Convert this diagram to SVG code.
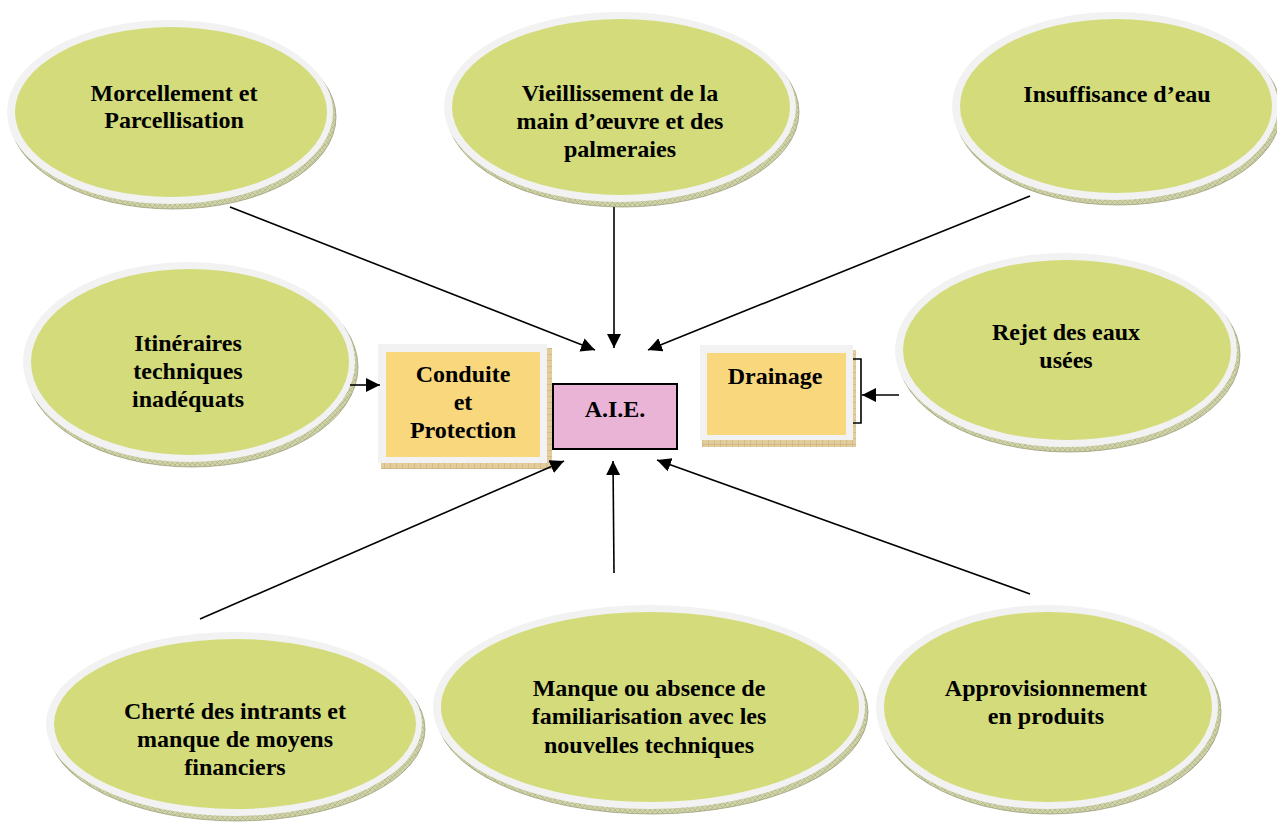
<svg xmlns="http://www.w3.org/2000/svg" width="1277" height="825" viewBox="0 0 1277 825">
<defs>
<pattern id="hatchG" width="5" height="5" patternUnits="userSpaceOnUse">
<rect width="5" height="5" fill="#d0d2a8"/>
<path d="M0,0 L5,5 M5,0 L0,5" stroke="#a4a77c" stroke-width="0.5"/>
</pattern>
<pattern id="hatchT" width="6" height="6" patternUnits="userSpaceOnUse">
<rect width="6" height="6" fill="#e2cc9c"/>
<path d="M0,0 H6 M0,0 V6" stroke="#b99c62" stroke-width="0.7"/>
</pattern>
<marker id="arr" markerUnits="userSpaceOnUse" markerWidth="16" markerHeight="16" refX="14" refY="7" orient="auto">
<path d="M0,0 L14,7 L0,14 z" fill="#000"/>
</marker>
</defs>
<style>
.sh{fill:url(#hatchG);stroke:#959870;stroke-width:0.7}
.rim{fill:#f2f2f2}
.in{fill:#d3db7b}
.t{font-family:"Liberation Serif","Times New Roman",serif;font-weight:bold;font-size:24px;fill:#000;text-anchor:middle}
.bsh{fill:url(#hatchT)}
.brim{fill:#f2f2f2}
.by{fill:#f9d77c}
.c{stroke:#000;stroke-width:1.6;fill:none;marker-end:url(#arr)}
</style>
<rect width="1277" height="825" fill="#fff"/>

<g id="n1">
<ellipse class="sh" cx="173" cy="117" rx="163" ry="92"/>
<ellipse class="rim" cx="170" cy="112" rx="163" ry="92"/>
<ellipse class="in" cx="171" cy="112" rx="156" ry="85"/>
<text class="t" x="174" y="101">Morcellement et</text>
<text class="t" x="174" y="128">Parcellisation</text>
</g>

<g id="n2">
<ellipse class="sh" cx="623" cy="112" rx="176" ry="95"/>
<ellipse class="rim" cx="620" cy="107" rx="176" ry="95"/>
<ellipse class="in" cx="621" cy="107" rx="169" ry="88"/>
<text class="t" x="620" y="101">Vieillissement de la</text>
<text class="t" x="620" y="129">main d’œuvre et des</text>
<text class="t" x="620" y="157">palmeraies</text>
</g>

<g id="n3">
<ellipse class="sh" cx="1118" cy="111" rx="163" ry="94"/>
<ellipse class="rim" cx="1115" cy="106" rx="163" ry="94"/>
<ellipse class="in" cx="1116" cy="106" rx="156" ry="87"/>
<text class="t" x="1117" y="102">Insuffisance d’eau</text>
</g>

<g id="n4">
<ellipse class="sh" cx="192" cy="367" rx="166" ry="100"/>
<ellipse class="rim" cx="189" cy="362" rx="166" ry="100"/>
<ellipse class="in" cx="190" cy="362" rx="159" ry="93"/>
<text class="t" x="188" y="351">Itinéraires</text>
<text class="t" x="188" y="379">techniques</text>
<text class="t" x="188" y="407">inadéquats</text>
</g>

<g id="n5">
<ellipse class="sh" cx="1069" cy="355" rx="171" ry="97"/>
<ellipse class="rim" cx="1066" cy="350" rx="171" ry="97"/>
<ellipse class="in" cx="1067" cy="350" rx="164" ry="90"/>
<text class="t" x="1066" y="340">Rejet des eaux</text>
<text class="t" x="1066" y="368">usées</text>
</g>

<g id="n6">
<ellipse class="sh" cx="237" cy="729" rx="188" ry="92"/>
<ellipse class="rim" cx="234" cy="724" rx="188" ry="92"/>
<ellipse class="in" cx="235" cy="724" rx="181" ry="85"/>
<text class="t" x="235" y="719">Cherté des intrants et</text>
<text class="t" x="235" y="747">manque de moyens</text>
<text class="t" x="235" y="775">financiers</text>
</g>

<g id="n7">
<ellipse class="sh" cx="652" cy="712" rx="216" ry="102"/>
<ellipse class="rim" cx="649" cy="707" rx="216" ry="102"/>
<ellipse class="in" cx="650" cy="707" rx="209" ry="95"/>
<text class="t" x="649" y="696">Manque ou absence de</text>
<text class="t" x="649" y="724">familiarisation avec les</text>
<text class="t" x="649" y="753">nouvelles techniques</text>
</g>

<g id="n8">
<ellipse class="sh" cx="1050" cy="712" rx="171" ry="102"/>
<ellipse class="rim" cx="1047" cy="707" rx="171" ry="102"/>
<ellipse class="in" cx="1048" cy="707" rx="164" ry="95"/>
<text class="t" x="1046" y="696">Approvisionnement</text>
<text class="t" x="1046" y="724">en produits</text>
</g>

<g id="conduite">
<rect class="bsh" x="381" y="348" width="171" height="121"/>
<rect class="brim" x="378" y="344" width="169" height="119"/>
<rect class="by" x="386" y="352" width="154" height="105"/>
<text class="t" x="463" y="382">Conduite</text>
<text class="t" x="463" y="410">et</text>
<text class="t" x="463" y="438">Protection</text>
</g>

<g id="aie">
<rect x="553" y="384" width="124" height="65" fill="#e9b4d6" stroke="#000" stroke-width="2"/>
<text class="t" x="615" y="417">A.I.E.</text>
</g>

<g id="drainage">
<rect class="bsh" x="702" y="350" width="154" height="97"/>
<rect class="brim" x="700" y="345" width="153" height="95"/>
<rect class="by" x="707" y="353" width="139" height="82"/>
<text class="t" x="775" y="384">Drainage</text>
<path d="M853,359 H861 V423 H853" fill="none" stroke="#000" stroke-width="1.6"/>
</g>

<g id="connectors">
<line class="c" x1="230" y1="207" x2="595" y2="350"/>
<line class="c" x1="614" y1="207" x2="614" y2="348"/>
<line class="c" x1="1030" y1="196" x2="648" y2="350"/>
<line class="c" x1="350" y1="385" x2="380" y2="385"/>
<line class="c" x1="899" y1="395" x2="862" y2="395"/>
<line class="c" x1="200" y1="619" x2="564" y2="461"/>
<line class="c" x1="614" y1="573" x2="613" y2="461"/>
<line class="c" x1="1030" y1="594" x2="657" y2="460"/>
</g>
</svg>
